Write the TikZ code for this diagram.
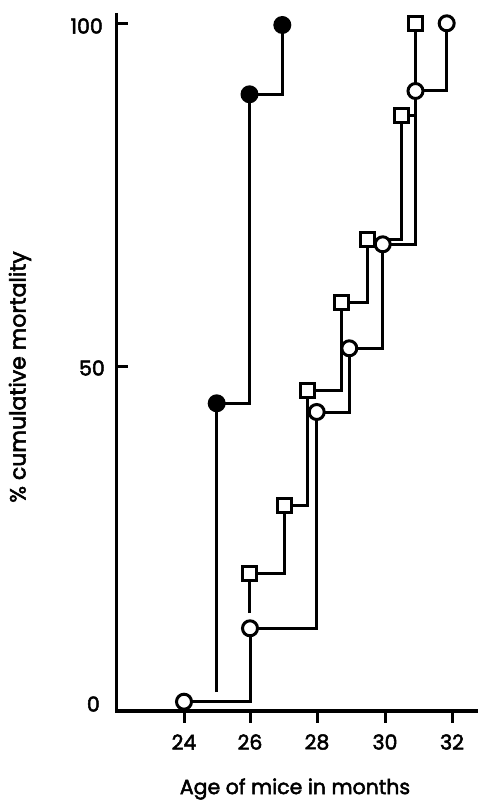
\documentclass[tikz,border=0pt]{standalone}
\usepackage{fontspec}
\setmainfont{Poppins}[FakeBold=2.4]
\begin{document}
\begin{tikzpicture}[x=1pt,y=-1pt,
  dataline/.style={line width=3pt,line join=miter},
  axisline/.style={line width=3.5pt},
  tickline/.style={line width=3pt},
  opencirc/.style={circle,draw,line width=3pt,fill=white,minimum size=15pt,inner sep=0pt},
  filledcirc/.style={circle,fill=black,minimum size=18pt,inner sep=0pt},
  opensq/.style={rectangle,draw,line width=3pt,fill=white,minimum size=14pt,inner sep=0pt},
  lab/.style={font=\fontsize{20.5}{24}\selectfont,inner sep=0pt},
  ylab/.style={font=\fontsize{22}{26}\selectfont,inner sep=0pt}]
\useasboundingbox (0,0) rectangle (478,802);
% axes
\coordinate (O) at (116.7,711);
\coordinate (ytop) at (116.7,13);
\coordinate (xend) at (478,711);
\draw[axisline] (ytop) -- (O) -- (xend);
% y ticks
\coordinate (y100) at (116.7,24);  \coordinate (y100e) at (128,24);
\coordinate (y50) at (116.7,366);  \coordinate (y50e) at (128,366);
\draw[tickline] (y100) -- (y100e);
\draw[tickline] (y50) -- (y50e);
\node[lab,anchor=east] (l100) at (103,26) {100};
\node[lab,anchor=east] (l50) at (105,368) {50};
\node[lab,anchor=east] (l0) at (100,704) {0};
% x ticks
\foreach \xx/\lbl in {184/24,250/26,317/28,385/30,452/32}{
  \coordinate (xt\lbl) at (\xx,711);
  \coordinate (xb\lbl) at (\xx,723);
  \draw[tickline] (xt\lbl) -- (xb\lbl);
  \node[lab] (xl\lbl) at (\xx,742) {\lbl};
}
\node[lab] (xtitle) at (295,789) {Age of mice in months};
\node[ylab,rotate=90] (ytitle) at (20,377) {\% cumulative mortality};
% filled series
\coordinate (f1) at (216.7,403.3);
\coordinate (f2) at (249.5,94.3);
\coordinate (f3) at (282.3,25);
\coordinate (fd) at (216.7,692);
\draw[dataline] (fd) -- (f1) -| (f2) -| (f3);
% square series
\coordinate (s1) at (249.5,573.3);
\coordinate (s2) at (284.3,505);
\coordinate (s3) at (307.2,390);
\coordinate (s4) at (341.7,302.7);
\coordinate (s5) at (367.7,239);
\coordinate (s6) at (401.2,116);
\coordinate (s7) at (415,23.3);
\coordinate (sd) at (249.5,613);
\draw[dataline] (sd) -- (s1) -| (s2) -| (s3) -| (s4) -| (s5) -| (s6) -| (s7);
% open circle series
\coordinate (c1) at (184,701.7);
\coordinate (c2) at (250,628.3);
\coordinate (c3) at (316.7,412);
\coordinate (c4) at (349.3,348.3);
\coordinate (c5) at (382.7,244.3);
\coordinate (c6) at (415.5,91);
\coordinate (c7) at (446.7,23.3);
\draw[dataline] (c1) -| (c2) -| (c3) -| (c4) -| (c5) -| (c6) -| (c7);
% markers
\foreach \n in {1,2,3}{\node[filledcirc] (F\n) at (f\n) {};}
\foreach \n in {1,...,7}{\node[opensq] (S\n) at (s\n) {};}
\foreach \n in {1,...,7}{\node[opencirc] (C\n) at (c\n) {};}
\end{tikzpicture}
\end{document}
